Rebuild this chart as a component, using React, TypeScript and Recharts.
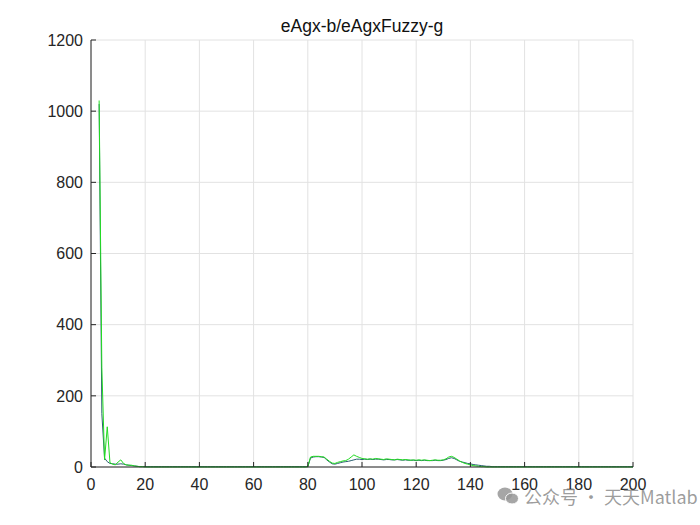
import { LineChart, Line, XAxis, YAxis, CartesianGrid } from 'recharts';

// sample index runs 1..200; first two samples are empty in the reference
const bValues: (number | null)[] = [
  null, null, 1020, 150, 25, 15, 10, 9, 8, 8,
  9, 8, 6, 5, 4, 3, 2, 1, 1, 1,
  1, 1, 1, 1, 1, 1, 1, 1, 1, 1,
  1, 1, 1, 1, 1, 1, 1, 1, 1, 1,
  1, 1, 1, 1, 1, 1, 1, 1, 1, 1,
  1, 1, 1, 1, 1, 1, 1, 1, 1, 1,
  1, 1, 1, 1, 1, 1, 1, 1, 1, 1,
  1, 1, 1, 1, 1, 1, 1, 1, 1, 1,
  25, 28, 29, 29, 28, 27, 20, 14, 9, 8,
  10, 12, 14, 15, 16, 18, 20, 22, 22, 21,
  22, 21, 22, 21, 22, 22, 21, 20, 21, 21,
  20, 20, 21, 20, 19, 20, 19, 19, 19, 18,
  19, 18, 19, 18, 18, 18, 19, 18, 18, 19,
  21, 24, 26, 24, 20, 16, 14, 12, 10, 9,
  7, 6, 5, 4, 3, 2, 2, 1, 1, 1,
  1, 1, 1, 1, 1, 1, 1, 1, 1, 1,
  1, 1, 1, 1, 1, 1, 1, 1, 1, 1,
  1, 1, 1, 1, 1, 1, 1, 1, 1, 1,
  1, 1, 1, 1, 1, 1, 1, 1, 1, 1,
  1, 1, 1, 1, 1, 1, 1, 1, 1, 1,
];

const gValues: (number | null)[] = [
  null, null, 1030, 280, 20, 113, 12, 8, 6, 14,
  20, 10, 6, 5, 5, 3, 2, 1, 1, 0,
  0, 0, 0, 0, 0, 0, 0, 0, 0, 0,
  0, 0, 0, 0, 0, 0, 0, 0, 0, 0,
  0, 0, 0, 0, 0, 0, 0, 0, 0, 0,
  0, 0, 0, 0, 0, 0, 0, 0, 0, 0,
  0, 0, 0, 0, 0, 0, 0, 0, 0, 0,
  0, 0, 0, 0, 0, 0, 0, 0, 0, 1,
  28, 30, 30, 30, 29, 28, 22, 16, 11, 10,
  13, 15, 17, 18, 22, 28, 34, 30, 27, 24,
  23, 22, 23, 22, 24, 23, 22, 21, 23, 22,
  21, 20, 22, 21, 20, 21, 20, 19, 20, 19,
  20, 19, 20, 19, 18, 19, 20, 19, 19, 20,
  23, 28, 30, 27, 22, 17, 13, 10, 8, 6,
  4, 3, 2, 1, 1, 0, 0, 0, 0, 0,
  0, 0, 0, 0, 0, 0, 0, 0, 0, 0,
  0, 0, 0, 0, 0, 0, 0, 0, 0, 0,
  0, 0, 0, 0, 0, 0, 0, 0, 0, 0,
  0, 0, 0, 0, 0, 0, 0, 0, 0, 0,
  0, 0, 0, 0, 0, 0, 0, 0, 0, 0,
];

const xTicks = [0, 20, 40, 60, 80, 100, 120, 140, 160, 180, 200];
const yTicks = [0, 200, 400, 600, 800, 1000, 1200];
const title = 'eAgx-b/eAgxFuzzy-g';
const watermark = '公众号 · 天天Matlab';

const data = gValues.map((g, i) => ({ x: i + 1, g, b: bValues[i] }));

const AXIS = '#262626';
const FONT = '"Liberation Sans", Arial, Helvetica, sans-serif';

export default function App() {
  return (
    <div style={{ position: 'absolute', left: 0, top: 0, width: 700, height: 525, background: '#fff', fontFamily: FONT }}>
      <div
        style={{
          position: 'absolute',
          left: 91,
          width: 542,
          top: 16,
          textAlign: 'center',
          fontSize: 17.5,
          color: '#111',
          whiteSpace: 'nowrap',
        }}
      >
        {title}
      </div>
      <LineChart width={700} height={525} data={data} margin={{ top: 40, right: 67, bottom: 28, left: 0 }}>
        <CartesianGrid xAxisId="main" yAxisId="main" stroke="#e2e2e2" strokeWidth={1} />
        <XAxis
          xAxisId="main"
          dataKey="x"
          type="number"
          domain={[0, 200]}
          ticks={xTicks}
          interval={0}
          height={30}
          stroke={AXIS}
          tickSize={-5}
          tickMargin={17}
          tick={{ fill: AXIS, fontSize: 16, fontFamily: FONT }}
        />
        <XAxis
          xAxisId="top"
          orientation="top"
          dataKey="x"
          type="number"
          domain={[0, 200]}
          ticks={xTicks}
          interval={0}
          height={0}
          stroke={AXIS}
          tickSize={-5}
          tick={false}
        />
        <YAxis
          yAxisId="main"
          type="number"
          domain={[0, 1200]}
          ticks={yTicks}
          interval={0}
          width={91}
          stroke={AXIS}
          tickSize={-5}
          tickMargin={13}
          tick={{ fill: AXIS, fontSize: 16, fontFamily: FONT }}
        />
        <YAxis
          yAxisId="right"
          orientation="right"
          type="number"
          domain={[0, 1200]}
          ticks={yTicks}
          interval={0}
          width={0}
          stroke={AXIS}
          tickSize={-5}
          tick={false}
        />
        <Line
          xAxisId="main"
          yAxisId="main"
          dataKey="b"
          type="linear"
          stroke="#2a5f70"
          strokeWidth={1}
          dot={false}
          isAnimationActive={false}
        />
        <Line
          xAxisId="main"
          yAxisId="main"
          dataKey="g"
          type="linear"
          stroke="#22dc22"
          strokeWidth={1}
          dot={false}
          isAnimationActive={false}
        />
      </LineChart>
      <div
        style={{
          position: 'absolute',
          left: 497,
          top: 483,
          display: 'flex',
          alignItems: 'center',
          whiteSpace: 'nowrap',
          color: 'rgba(140,140,140,0.85)',
          fontSize: 18,
          fontFamily: '"Noto Sans CJK SC", "Noto Sans", sans-serif',
        }}
      >
        <svg width={22} height={20} style={{ marginRight: 5 }}>
          <ellipse cx={8} cy={8} rx={7.5} ry={6.5} fill="rgba(150,150,150,0.85)" />
          <ellipse cx={15} cy={12.5} rx={6.5} ry={5.5} fill="rgba(150,150,150,0.85)" stroke="#fff" strokeWidth={1} />
        </svg>
        <span>{watermark}</span>
      </div>
    </div>
  );
}
